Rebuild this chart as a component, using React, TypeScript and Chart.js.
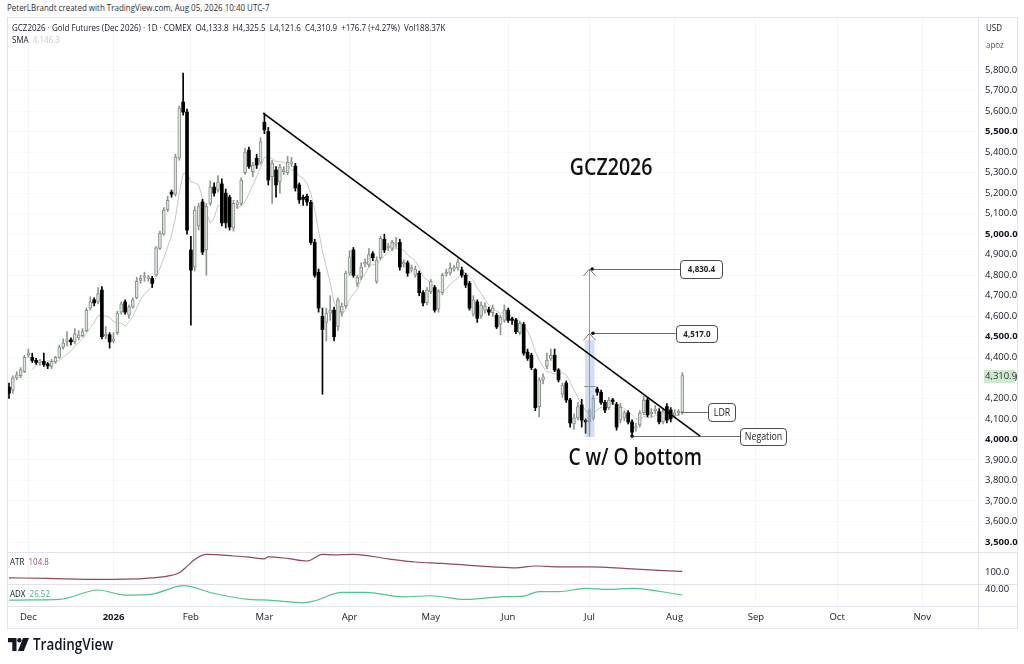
import React, { useEffect, useRef } from 'react';
import { Chart, registerables } from 'chart.js';

Chart.register(...registerables);

// ---------- DATA (daily bars, GCZ2026, from ~Nov 20 2025 to Aug 5 2026) ----------
const opens = [
  4255, 4240, 4300, 4310, 4330, 4410, 4400, 4385, 4375, 4380, 4368, 4355, 4378, 4400, 4450, 4478, 4485, 4475, 4495, 4505,
  4530, 4640, 4680, 4670, 4728, 4505, 4510, 4480, 4520, 4620, 4670, 4605, 4645, 4690, 4775, 4790, 4785, 4785, 4800, 4930,
  5000, 5120, 5205, 5195, 5370, 5644, 5595, 4923, 4840, 5040, 5157, 4925, 5150, 5230, 5215, 5245, 5200, 5180, 5030, 5145,
  5150, 5300, 5410, 5305, 5370, 5350, 5545, 5500, 5280, 5313, 5255, 5305, 5300, 5345, 5332, 5240, 5180, 5185, 5155, 4960,
  4815, 4600, 4570, 4615, 4630, 4550, 4620, 4650, 4810, 4923, 4760, 4790, 4855, 4850, 4905, 4770, 4885, 4975, 4935, 4930,
  4950, 4960, 4855, 4860, 4830, 4800, 4810, 4715, 4665, 4720, 4740, 4635, 4715, 4805, 4810, 4830, 4835, 4825, 4800, 4760,
  4610, 4670, 4600, 4630, 4632, 4618, 4605, 4560, 4580, 4630, 4585, 4582, 4520, 4560, 4425, 4410, 4340, 4160, 4290, 4355,
  4395, 4410, 4338, 4220, 4275, 4192, 4075, 4105, 4168, 4090, 4085, 4105, 4245, 4230, 4180, 4155, 4188, 4170, 4094, 4105,
  4130, 4085, 4055, 4070, 4130, 4192, 4125, 4140, 4135, 4085, 4160, 4143, 4118, 4130, 4133.8,
];
const highs = [
  4275, 4310, 4330, 4350, 4410, 4440, 4420, 4395, 4390, 4420, 4375, 4390, 4405, 4460, 4490, 4525, 4495, 4540, 4530, 4540,
  4640, 4695, 4690, 4740, 4745, 4550, 4520, 4520, 4625, 4670, 4680, 4655, 4690, 4790, 4800, 4815, 4800, 4795, 4940, 5015,
  5130, 5185, 5215, 5390, 5625, 5785, 5610, 4990, 5135, 5150, 5170, 5150, 5260, 5250, 5285, 5270, 5220, 5190, 5165, 5165,
  5275, 5420, 5425, 5350, 5390, 5470, 5590, 5520, 5360, 5330, 5340, 5330, 5380, 5375, 5345, 5250, 5190, 5195, 5165, 4975,
  4830, 4640, 4640, 4700, 4645, 4690, 4665, 4820, 4920, 4935, 4800, 4860, 4880, 4930, 4915, 4890, 4990, 5000, 4955, 4970,
  4985, 4975, 4875, 4870, 4850, 4845, 4820, 4725, 4740, 4780, 4750, 4730, 4810, 4830, 4860, 4850, 4880, 4840, 4810, 4770,
  4700, 4680, 4670, 4665, 4645, 4655, 4615, 4605, 4655, 4640, 4595, 4590, 4575, 4570, 4440, 4420, 4345, 4300, 4320, 4420,
  4440, 4440, 4345, 4275, 4285, 4200, 4125, 4180, 4195, 4100, 4150, 4215, 4255, 4240, 4190, 4205, 4200, 4180, 4175, 4140,
  4140, 4095, 4080, 4140, 4210, 4205, 4150, 4165, 4150, 4150, 4175, 4155, 4145, 4145, 4325.5,
];
const lows = [
  4200, 4225, 4290, 4300, 4325, 4400, 4375, 4365, 4360, 4355, 4345, 4345, 4370, 4395, 4440, 4455, 4460, 4465, 4485, 4500,
  4525, 4630, 4650, 4660, 4490, 4490, 4445, 4470, 4510, 4610, 4610, 4590, 4640, 4685, 4760, 4770, 4770, 4740, 4795, 4925,
  4995, 5110, 5180, 5185, 5360, 5580, 5000, 4557, 4820, 5020, 4900, 4800, 5140, 5185, 5205, 5040, 5030, 5020, 5015, 5125,
  5140, 5290, 5320, 5280, 5320, 5340, 5490, 5240, 5150, 5180, 5200, 5290, 5290, 5330, 5210, 5150, 5140, 5140, 4950, 4790,
  4620, 4220, 4480, 4580, 4480, 4530, 4600, 4640, 4800, 4790, 4745, 4780, 4840, 4840, 4870, 4760, 4875, 4910, 4920, 4920,
  4935, 4825, 4840, 4795, 4815, 4790, 4700, 4650, 4655, 4710, 4620, 4620, 4705, 4795, 4800, 4820, 4825, 4790, 4740, 4630,
  4600, 4570, 4590, 4615, 4605, 4600, 4540, 4510, 4570, 4570, 4560, 4515, 4510, 4410, 4385, 4340, 4140, 4110, 4270, 4345,
  4385, 4330, 4280, 4205, 4180, 4060, 4050, 4095, 4060, 4030, 4020, 4095, 4215, 4170, 4130, 4145, 4170, 4045, 4080, 4090,
  4075, 4015, 4040, 4060, 4120, 4110, 4110, 4125, 4075, 4075, 4080, 4085, 4105, 4115, 4121.6,
];
const closes = [
  4225, 4300, 4315, 4340, 4400, 4420, 4385, 4375, 4378, 4365, 4358, 4380, 4400, 4450, 4470, 4485, 4475, 4515, 4510, 4525,
  4630, 4670, 4665, 4710, 4500, 4510, 4475, 4490, 4615, 4660, 4620, 4645, 4680, 4770, 4785, 4795, 4790, 4760, 4933, 5005,
  5118, 5165, 5195, 5376, 5615, 5595, 5020, 4825, 5118, 5135, 4913, 5135, 5230, 5200, 5255, 5055, 5055, 5035, 5150, 5150,
  5264, 5400, 5330, 5337, 5337, 5450, 5508, 5264, 5347, 5240, 5327, 5315, 5350, 5350, 5225, 5167, 5170, 5157, 4960, 4800,
  4640, 4535, 4615, 4630, 4500, 4680, 4650, 4810, 4890, 4800, 4790, 4840, 4860, 4900, 4885, 4874, 4980, 4923, 4940, 4960,
  4952, 4840, 4860, 4810, 4835, 4830, 4715, 4665, 4728, 4770, 4630, 4720, 4800, 4815, 4835, 4835, 4865, 4800, 4752, 4640,
  4680, 4590, 4655, 4650, 4620, 4640, 4548, 4595, 4630, 4580, 4580, 4525, 4565, 4420, 4395, 4350, 4155, 4290, 4305, 4387,
  4410, 4338, 4290, 4265, 4192, 4080, 4105, 4160, 4094, 4085, 4143, 4200, 4230, 4180, 4143, 4192, 4185, 4060, 4158, 4130,
  4085, 4035, 4060, 4128, 4192, 4119, 4130, 4145, 4085, 4135, 4094, 4100, 4130, 4134.2, 4310.9,
];
const SMA_LEN = 7;

// Month ticks (bar index of first trading day of each month)
const monthIdx = [5, 27, 47, 66, 88, 109, 129, 150, 172, 193, 214, 236];
const monthLabels = ['Dec', '2026', 'Feb', 'Mar', 'Apr', 'May', 'Jun', 'Jul', 'Aug', 'Sep', 'Oct', 'Nov'];

// Price axis tick labels
const priceTicks = [5800, 5700, 5600, 5500, 5400, 5300, 5200, 5100, 5000, 4900, 4800, 4700, 4600, 4500, 4400, 4300, 4200, 4100, 4000, 3900, 3800, 3700, 3600, 3500];

const atrIdx = [0, 10, 23, 30, 37, 42, 44, 46, 48, 51, 58, 62, 66, 67, 72, 77, 81, 84, 89, 98, 105, 112, 119, 125, 131, 136, 142, 150, 161, 168, 174];
const atrVals = [73, 70, 65, 66, 73, 85, 98, 130, 165, 190, 182, 176, 168, 178, 170, 157, 190, 188, 190, 168, 152, 145, 135, 128, 123, 132, 128, 128, 118, 110, 104.8];

const adxIdx = [0, 6, 13, 23, 30, 37, 45, 53, 62, 67, 76, 79, 86, 92, 102, 109, 118, 127, 133, 137, 142, 149, 155, 161, 174];
const adxVals = [15, 15.5, 16.5, 37.7, 26.4, 28.6, 47.6, 30, 16.5, 15, 9, 13.5, 32.5, 32.5, 22.5, 24.8, 16.5, 22.5, 24, 34, 34, 41.5, 39, 41.5, 26.52];

// Annotations (data units: bar index / price)
const TREND = { i0: 65.7, p0: 5590, i1: 178.6, p1: 4016 };
const BREAKOUT_I = 150;
const ARROW_BASE = 4012;
const BAND = { i0: 148.9, i1: 151.3, pTop: 4484, pBot: 4012 };
const BAND_TICK = 4262;
const TARGET_1 = 4830.4;
const TARGET_2 = 4517.0;
const LDR_P = 4133;
const NEG_P = 4016;
const TITLE_POS = { i: 155.6, p: 5322 };
const SUB_POS = { i: 161.8, p: 3909 };

// ---------- LAYOUT ----------
const X_MIN = -0.26;
const X_MAX = 250.4;
const Y_MIN = 3451.3;
const Y_MAX = 6053.4;
const AXIS_W = 46;
const FONT = '"Open Sans", "Noto Sans", sans-serif';

const fmt1 = (v: number) => v.toLocaleString('en-US', { minimumFractionDigits: 1, maximumFractionDigits: 1 });

function roundRect(ctx: CanvasRenderingContext2D, x: number, y: number, w: number, h: number, r: number) {
  ctx.beginPath();
  ctx.moveTo(x + r, y);
  ctx.arcTo(x + w, y, x + w, y + h, r);
  ctx.arcTo(x + w, y + h, x, y + h, r);
  ctx.arcTo(x, y + h, x, y, r);
  ctx.arcTo(x, y, x + w, y, r);
  ctx.closePath();
}

function squishText(ctx: CanvasRenderingContext2D, text: string, cx: number, cy: number, font: string, color: string, sx: number) {
  ctx.save();
  ctx.translate(cx, cy);
  ctx.scale(sx, 1);
  ctx.font = font;
  ctx.fillStyle = color;
  ctx.textAlign = 'center';
  ctx.textBaseline = 'middle';
  ctx.fillText(text, 0, 0);
  ctx.restore();
}

function labelBox(ctx: CanvasRenderingContext2D, left: number, cy: number, w: number, h: number, text: string, font: string) {
  roundRect(ctx, left + 0.5, Math.round(cy - h / 2) + 0.5, w, h, 3.5);
  ctx.fillStyle = '#ffffff';
  ctx.fill();
  ctx.strokeStyle = '#4a4a4a';
  ctx.lineWidth = 1;
  ctx.stroke();
  squishText(ctx, text, left + w / 2 + 0.5, cy + 0.5, font, '#222', 0.84);
}

const annotationPlugin = {
  id: 'gczAnnotations',
  afterDatasetsDraw(chart: any) {
    const { ctx, scales } = chart;
    const xs = scales.x;
    const ys = scales.y;
    const X = (i: number) => xs.getPixelForValue(i);
    const Y = (p: number) => ys.getPixelForValue(p);
    ctx.save();

    // breakout band
    ctx.fillStyle = 'rgba(140,165,230,0.38)';
    ctx.fillRect(X(BAND.i0), Y(BAND.pTop), X(BAND.i1) - X(BAND.i0), Y(BAND.pBot) - Y(BAND.pTop));
    ctx.strokeStyle = '#8c8c8c';
    ctx.lineWidth = 1;
    ctx.beginPath();
    ctx.moveTo(X(BAND.i0) - 1, Math.round(Y(BAND_TICK)) + 0.5);
    ctx.lineTo(X(BAND.i1) + 1, Math.round(Y(BAND_TICK)) + 0.5);
    ctx.stroke();

    // vertical measuring arrow
    const ax = Math.round(X(BREAKOUT_I)) + 0.5;
    ctx.strokeStyle = '#9a9a9a';
    ctx.beginPath();
    ctx.moveTo(ax, Y(ARROW_BASE));
    ctx.lineTo(ax, Y(TARGET_1));
    ctx.stroke();
    ctx.strokeStyle = '#707070';
    [TARGET_1, TARGET_2].forEach((p) => {
      const y = Y(p);
      ctx.beginPath();
      ctx.moveTo(ax - 6, y + 7);
      ctx.lineTo(ax, y);
      ctx.lineTo(ax + 6, y + 7);
      ctx.stroke();
    });

    // target lines + boxes
    ctx.strokeStyle = '#6a6a6a';
    const t1y = Math.round(Y(TARGET_1)) + 0.5;
    const t2y = Math.round(Y(TARGET_2)) + 0.5;
    ctx.beginPath();
    ctx.moveTo(X(150.7), t1y);
    ctx.lineTo(X(173.4), t1y);
    ctx.moveTo(X(150.9), t2y);
    ctx.lineTo(X(172.3), t2y);
    const ly = Math.round(Y(LDR_P)) + 0.5;
    const ny = Math.round(Y(NEG_P)) + 0.5;
    ctx.moveTo(X(173.6), ly);
    ctx.lineTo(X(180.6), ly);
    ctx.moveTo(X(161), ny);
    ctx.lineTo(X(188.9), ny);
    ctx.stroke();

    ctx.fillStyle = '#111';
    [[150.7, TARGET_1], [150.9, TARGET_2], [161, NEG_P]].forEach(([i, p]) => {
      ctx.beginPath();
      ctx.arc(X(i), Y(p), 1.8, 0, Math.PI * 2);
      ctx.fill();
    });

    labelBox(ctx, Math.round(X(173.4)), Y(TARGET_1), 42, 18, fmt1(TARGET_1), `bold 9.5px ${FONT}`);
    labelBox(ctx, Math.round(X(172.3)), Y(TARGET_2), 41, 17, fmt1(TARGET_2), `bold 9.5px ${FONT}`);
    labelBox(ctx, Math.round(X(180.6)), Y(LDR_P), 27, 18, 'LDR', `10.5px ${FONT}`);
    labelBox(ctx, Math.round(X(188.9)), Y(NEG_P), 46, 17, 'Negation', `10.5px ${FONT}`);

    // trend line
    ctx.strokeStyle = '#000';
    ctx.lineWidth = 1.6;
    ctx.beginPath();
    ctx.moveTo(X(TREND.i0), Y(TREND.p0));
    ctx.lineTo(X(TREND.i1), Y(TREND.p1));
    ctx.stroke();

    // texts
    squishText(ctx, 'GCZ2026', X(TITLE_POS.i), Y(TITLE_POS.p), `600 23px ${FONT}`, '#111', 0.85);
    squishText(ctx, 'C w/ O bottom', X(SUB_POS.i), Y(SUB_POS.p), `600 23px ${FONT}`, '#111', 0.83);
    ctx.restore();
  },
  afterDraw(chart: any) {
    const { ctx, chartArea, scales } = chart;
    const last = closes[closes.length - 1];
    const y = scales.y.getPixelForValue(last);
    ctx.save();
    ctx.fillStyle = '#cfe9d1';
    ctx.fillRect(chartArea.right + 6, Math.round(y - 6), 31, 13);
    ctx.font = `9.5px ${FONT}`;
    ctx.fillStyle = '#2c3a2c';
    ctx.textAlign = 'left';
    ctx.textBaseline = 'middle';
    ctx.fillText(fmt1(last), chartArea.right + 7, Math.round(y) + 0.5);
    ctx.restore();
  },
};

const gridColor = 'rgba(0,0,0,0.04)';

function xAxis(showLabels: boolean, height: number) {
  return {
    type: 'linear' as const,
    min: X_MIN,
    max: X_MAX,
    offset: false,
    afterBuildTicks: (axis: any) => {
      axis.ticks = monthIdx.map((v) => ({ value: v }));
    },
    afterFit: (axis: any) => {
      axis.height = height;
      axis.paddingLeft = 0;
      axis.paddingRight = 0;
      axis.paddingTop = 0;
      axis.paddingBottom = 0;
    },
    grid: { color: gridColor, drawTicks: false, offset: false },
    border: { display: false },
    ticks: {
      display: showLabels,
      autoSkip: false,
      maxRotation: 0,
      padding: 6,
      color: '#131722',
      font: (c: any) => ({ family: FONT, size: 9.5, weight: c.tick && c.tick.value === 27 ? 'bold' : 'normal' }),
      callback: (v: any) => {
        const k = monthIdx.indexOf(Number(v));
        return k >= 0 ? monthLabels[k] : '';
      },
    },
  };
}

function yAxis(min: number, max: number, ticks: number[], label: (v: number) => string, boldFn: (v: number) => boolean, grid: boolean) {
  return {
    type: 'linear' as const,
    position: 'right' as const,
    min,
    max,
    afterBuildTicks: (axis: any) => {
      axis.ticks = ticks.map((v) => ({ value: v }));
    },
    afterFit: (axis: any) => {
      axis.width = AXIS_W;
      axis.paddingLeft = 0;
      axis.paddingRight = 0;
      axis.paddingTop = 0;
      axis.paddingBottom = 0;
    },
    grid: { color: 'rgba(0,0,0,0.03)', drawTicks: false, drawOnChartArea: grid },
    border: { display: false },
    ticks: {
      padding: 7,
      color: '#131722',
      font: (c: any) => ({ family: FONT, size: 9.5, weight: c.tick && boldFn(c.tick.value) ? 'bold' : 'normal' }),
      callback: (v: any) => label(Number(v)),
    },
  };
}

const baseLayout = { autoPadding: false, padding: { left: 8, top: 0, right: 0, bottom: 0 } };

export default function App() {
  const mainRef = useRef<HTMLCanvasElement>(null);
  const atrRef = useRef<HTMLCanvasElement>(null);
  const adxRef = useRef<HTMLCanvasElement>(null);

  useEffect(() => {
    document.body.style.margin = '0';
    const idx = closes.map((_, i) => i);
    const up = idx.map((i) => closes[i] >= opens[i]);
    const sma = idx.map((i) =>
      i < SMA_LEN - 1 ? null : closes.slice(i - SMA_LEN + 1, i + 1).reduce((a, b) => a + b, 0) / SMA_LEN
    );

    const main = new Chart(mainRef.current as HTMLCanvasElement, {
      type: 'bar',
      data: {
        datasets: [
          {
            type: 'line',
            data: idx.map((i) => ({ x: i, y: sma[i] })) as any,
            borderColor: '#c6c6c6',
            borderWidth: 1,
            pointRadius: 0,
            order: 3,
          },
          {
            type: 'bar',
            data: idx.map((i) => ({ x: i, y: [lows[i], highs[i]] })) as any,
            backgroundColor: idx.map((i) => (up[i] ? '#8f968f' : '#000000')),
            barThickness: 1,
            grouped: false,
            order: 2,
          },
          {
            type: 'bar',
            data: idx.map((i) => ({ x: i, y: [Math.min(opens[i], closes[i]), Math.max(opens[i], closes[i])] })) as any,
            backgroundColor: idx.map((i) => (up[i] ? '#dbe6db' : '#000000')),
            borderColor: idx.map((i) => (up[i] ? '#879287' : '#000000')),
            borderWidth: idx.map((i) => (up[i] ? 1 : 0)),
            borderSkipped: false,
            barThickness: 3,
            minBarLength: 1.5,
            grouped: false,
            order: 1,
          },
        ] as any,
      },
      options: {
        animation: false,
        responsive: true,
        maintainAspectRatio: false,
        layout: { autoPadding: false, padding: { left: 8, top: 18, right: 0, bottom: 0 } },
        plugins: { legend: { display: false }, tooltip: { enabled: false } },
        scales: {
          x: xAxis(false, 0) as any,
          y: yAxis(Y_MIN, Y_MAX, priceTicks, fmt1, (v) => v % 500 === 0, true) as any,
        },
      } as any,
      plugins: [annotationPlugin],
    });

    const atr = new Chart(atrRef.current as HTMLCanvasElement, {
      type: 'line',
      data: {
        datasets: [
          {
            data: atrIdx.map((v, k) => ({ x: v, y: atrVals[k] })),
            borderColor: '#8e4b57',
            borderWidth: 1.2,
            pointRadius: 0,
            cubicInterpolationMode: 'monotone',
          },
        ],
      },
      options: {
        animation: false,
        responsive: true,
        maintainAspectRatio: false,
        layout: baseLayout,
        plugins: { legend: { display: false }, tooltip: { enabled: false } },
        scales: {
          x: xAxis(false, 0) as any,
          y: yAxis(42, 202, [100], (v) => v.toFixed(1), () => false, false) as any,
        },
      } as any,
    });

    const adx = new Chart(adxRef.current as HTMLCanvasElement, {
      type: 'line',
      data: {
        datasets: [
          {
            data: adxIdx.map((v, k) => ({ x: v, y: adxVals[k] })),
            borderColor: '#4fc493',
            borderWidth: 1.2,
            pointRadius: 0,
            cubicInterpolationMode: 'monotone',
          },
        ],
      },
      options: {
        animation: false,
        responsive: true,
        maintainAspectRatio: false,
        layout: baseLayout,
        plugins: { legend: { display: false }, tooltip: { enabled: false } },
        scales: {
          x: xAxis(true, 24) as any,
          y: yAxis(1.8, 51.2, [40], (v) => v.toFixed(2), () => false, false) as any,
        },
      } as any,
    });

    return () => {
      main.destroy();
      atr.destroy();
      adx.destroy();
    };
  }, []);

  const txt = (extra: React.CSSProperties): React.CSSProperties => ({
    position: 'absolute',
    whiteSpace: 'pre',
    lineHeight: '12px',
    fontSize: 9.5,
    color: '#131722',
    transform: 'scaleX(0.84)',
    transformOrigin: 'left center',
    ...extra,
  });
  const hLine = (top: number): React.CSSProperties => ({
    position: 'absolute', left: 7, top, width: 1011, height: 1, background: '#e0e3eb',
  });

  return (
    <div style={{ position: 'fixed', left: 0, top: 0, width: 1024, height: 664, background: '#fff', overflow: 'hidden', fontFamily: FONT }}>
      <div style={txt({ left: 7, top: 2, color: '#2a2e39' })}>PeterLBrandt created with TradingView.com, Aug 05, 2026 10:40 UTC-7</div>
      <div style={{ position: 'absolute', left: 7, top: 17, width: 1009, height: 610, border: '1px solid #e0e3eb' }} />

      <div style={{ position: 'absolute', left: 0, top: 0, width: 1024, height: 552 }}>
        <canvas ref={mainRef} />
      </div>
      <div style={{ position: 'absolute', left: 0, top: 552, width: 1024, height: 32 }}>
        <canvas ref={atrRef} />
      </div>
      <div style={{ position: 'absolute', left: 0, top: 584, width: 1024, height: 46 }}>
        <canvas ref={adxRef} />
      </div>

      <div style={hLine(552)} />
      <div style={hLine(584)} />
      <div style={hLine(606)} />
      <div style={{ position: 'absolute', left: 978, top: 17, width: 1, height: 611, background: '#e0e3eb' }} />

      <div style={txt({ left: 12, top: 22 })}>
        {'GCZ2026 · Gold Futures (Dec 2026) · 1D · COMEX  O4,133.8  H4,325.5  L4,121.6  C4,310.9  +176.7 (+4.27%)  Vol188.37K'}
      </div>
      <div style={txt({ left: 12, top: 34 })}>
        {'SMA  '}<span style={{ color: '#c9c9c9' }}>4,146.3</span>
      </div>
      <div style={txt({ left: 986, top: 22 })}>USD</div>
      <div style={txt({ left: 986, top: 39, color: '#50535e' })}>apoz</div>

      <div style={txt({ left: 10, top: 556 })}>
        {'ATR  '}<span style={{ color: '#a0525c' }}>104.8</span>
      </div>
      <div style={txt({ left: 10, top: 588 })}>
        {'ADX  '}<span style={{ color: '#3db47f' }}>26.52</span>
      </div>

      <div style={{ position: 'absolute', left: 8, top: 636, display: 'flex', alignItems: 'center' }}>
        <svg width="21" height="13" viewBox="0 0 21 13">
          <path d="M0 0h8.5v13h-4.2V4.2H0z" fill="#131722" />
          <circle cx="11.3" cy="2.2" r="2.2" fill="#131722" />
          <path d="M15 0h6l-5.2 13H10z" fill="#131722" />
        </svg>
        <span style={{ marginLeft: 4, fontSize: 16, fontWeight: 600, color: '#131722', transform: 'scaleX(0.84)', transformOrigin: 'left center', display: 'inline-block', lineHeight: '16px' }}>TradingView</span>
      </div>
    </div>
  );
}
